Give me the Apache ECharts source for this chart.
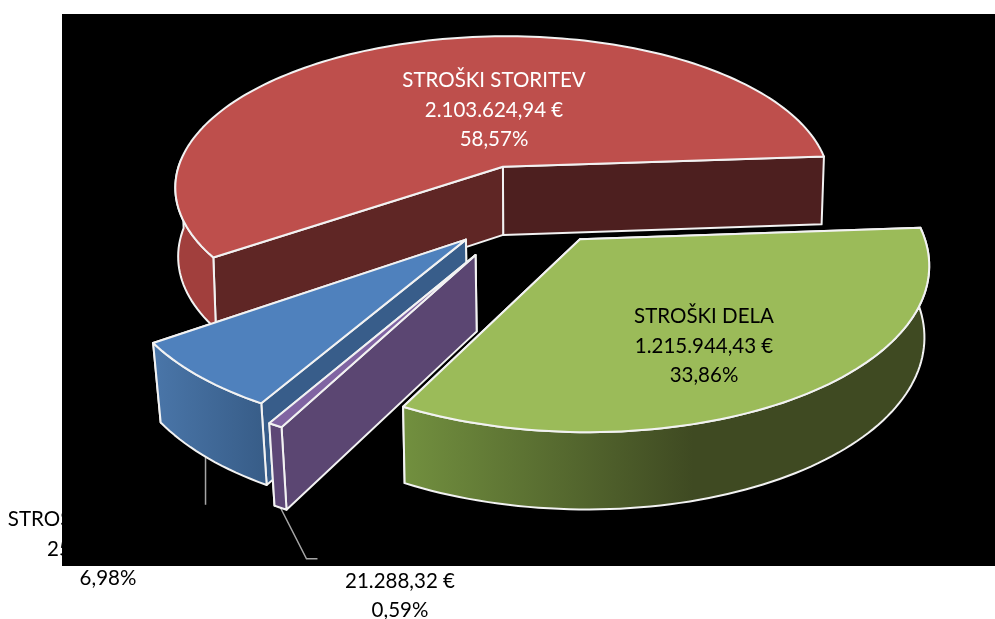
<!DOCTYPE html>
<html><head><meta charset="utf-8">
<style>html,body{margin:0;padding:0;background:#fff}#c{width:995px;height:619px}</style>
<script src="https://cdn.jsdelivr.net/npm/echarts@6/dist/echarts.min.js"></script>
</head><body><div id="c"></div>
<script>
// data, clockwise from the green slice
const categories = ['STROŠKI DELA', 'STROŠKI', 'STROŠKI MATERIALA', 'STROŠKI STORITEV'];
const values = [1215944.43, 21288.32, 250680.00, 2103624.94];
const amountLabels = ['1.215.944,43 €', '21.288,32 €', '250.680,00 €', '2.103.624,94 €'];
const percentLabels = ['33,86%', '0,59%', '6,98%', '58,57%'];

// view of the tilted pie
const V = {cx: 531, cy: 204, rx: 335, ry: 157, k: 0.133, startDeg: 4, h: 69.5, hp: 0.6};
const explode = [0.26, 0.35, 0.29, 0.26];
const explodeTurn = [0, 2, 2, 0];
const depthScale = [1, 1.07, 1.07, 1];
const shrinkBy = [0.988, 0.98, 0.98, 0.992];
const wallSin = [0.2, 0, 0, 0.06];
const FONT = 'Lato, "Open Sans", sans-serif';
const FS = 20.5;

const total = values.reduce((a, b) => a + b, 0);
const spans = []; // math angles, clockwise
{ let a = V.startDeg;
  values.forEach(v => { const d = v / total * 360; spans.push([a, a - d]); a -= d; }); }

function topPt(u, v) {
  const w = 1 - V.k * v;
  return [V.cx + V.rx * u / w, V.cy + V.ry * v / w, w];
}
function botPt(u, v, i) {
  const p = topPt(u, v);
  return [V.cx + (p[0] - V.cx) * shrinkBy[i], p[1] + depthScale[i] * V.h * Math.pow(1 / p[2], V.hp)];
}
function geom(i) {
  const [a0, a1] = spans[i], mid = (a0 + a1) / 2 * Math.PI / 180, e = explode[i];
  const dir = mid + explodeTurn[i] * Math.PI / 180;
  const ox = e * Math.cos(dir), oy = -e * Math.sin(dir);
  const rim = [], front = [];
  const n = Math.max(4, Math.ceil(Math.abs(a0 - a1) / 1.5));
  for (let s = 0; s <= n; s++) {
    const t = (a0 + (a1 - a0) * s / n) * Math.PI / 180;
    const q = [ox + Math.cos(t), oy - Math.sin(t)];
    rim.push(q);
    if (Math.sin(t) <= wallSin[i]) front.push(q);
  }
  return {ox, oy, rim, front, mid};
}
const P = a => a.slice(0, 2);
const strokeW = 2;
function poly(points, fill, z2) {
  return {type: 'polygon', z2, shape: {points}, style: {fill, stroke: '#F2F2F2', lineWidth: strokeW, lineJoin: 'round'}};
}
const LG = (stops) => new echarts.graphic.LinearGradient(0, 0, 1, 0, stops);
const styles = [
  {top: '#9BBB59', wallA: '#3F4A22', wallB: '#3F4A22', outer: () => LG([{offset: 0, color: '#72903F'}, {offset: .55, color: '#3F4A22'}, {offset: 1, color: '#3F4A22'}])},
  {top: '#8064A2', wallA: '#5B4672', wallB: '#5B4672', outer: () => '#5D4776'},
  {top: '#4F81BD', wallA: '#385D8A', wallB: '#385D8A', outer: () => LG([{offset: 0, color: '#4A76A9'}, {offset: 1, color: '#375C87'}])},
  {top: '#BE4F4C', wallA: '#4D1F1F', wallB: '#5F2625', outer: () => '#A13F3D'}
];

function sliceItem(params, api) {
  const i = api.value(0), g = geom(i), st = styles[i], kids = [];
  const T = g.rim.map(p => P(topPt(p[0], p[1])));
  const B = g.rim.map(p => P(botPt(p[0], p[1], i)));
  const aT = P(topPt(g.ox, g.oy)), aB = P(botPt(g.ox, g.oy, i));
  const fT = g.front.map(p => P(topPt(p[0], p[1])));
  const fB = g.front.map(p => P(botPt(p[0], p[1], i)));
  // radial walls, outer wall, top face
  kids.push(poly([aT, T[T.length - 1], B[B.length - 1], aB], st.wallA, 1));
  kids.push(poly([aT, T[0], B[0], aB], st.wallB, 1));
  kids.push(poly(fT.concat(fB.slice().reverse()), st.outer(), 2));
  kids.push(poly([aT].concat(T), st.top, 3));
  return {type: 'group', children: kids};
}

const innerLabels = [
  {i: 3, x: 494, y: 110, color: '#fff'},
  {i: 0, x: 704, y: 346, color: '#000'}
];
function textBlock(x, y, lines, color) {
  return {type: 'text', z2: 10, style: {x, y, text: lines.join('\n'), fill: color, font: FS + 'px ' + FONT,
    align: 'center', verticalAlign: 'middle', lineHeight: 29.5}};
}
function innerLabelItem(params, api) {
  const L = innerLabels[params.dataIndex];
  return textBlock(L.x, L.y, [categories[L.i], amountLabels[L.i], percentLabels[L.i]], L.color);
}
function outerLabelItem(params, api) {
  return params.dataIndex === 0
    ? textBlock(108, 549, [categories[2], amountLabels[2], percentLabels[2]], '#000')
    : textBlock(400, 596, [amountLabels[1], percentLabels[1]], '#000');
}
function leaderItem(params, api) {
  const i = api.value(0), g = geom(i);
  const s = P(botPt(g.ox + Math.cos(g.mid), g.oy - Math.sin(g.mid), i));
  const pts = i === 2 ? [s, [s[0], s[1] + 48]] : [s, [s[0] + 26, s[1] + 51], [s[0] + 37, s[1] + 51]];
  return {type: 'polyline', shape: {points: pts}, style: {fill: 'none', stroke: '#A6A6A6', lineWidth: 1.5}};
}

const chart = echarts.init(document.getElementById('c'), null, {renderer: 'canvas'});
chart.setOption({
  animation: false,
  backgroundColor: '#fff',
  series: [
    {type: 'custom', coordinateSystem: 'none', z: 1, silent: true, data: [[2], [1]], renderItem: outerLabelItem},
    {type: 'custom', coordinateSystem: 'none', z: 2, silent: true, data: [[0]], renderItem: () => ({
      type: 'rect', shape: {x: 62, y: 14, width: 933, height: 552}, style: {fill: '#000'}})},
    {type: 'custom', coordinateSystem: 'none', z: 3, silent: true, data: [[2], [1]], renderItem: leaderItem},
    {type: 'custom', coordinateSystem: 'none', z: 4, silent: true, data: [[3], [2], [1], [0]], renderItem: sliceItem},
    {type: 'custom', coordinateSystem: 'none', z: 5, silent: true, data: [[3], [0]], renderItem: innerLabelItem}
  ]
});
</script></body></html>
